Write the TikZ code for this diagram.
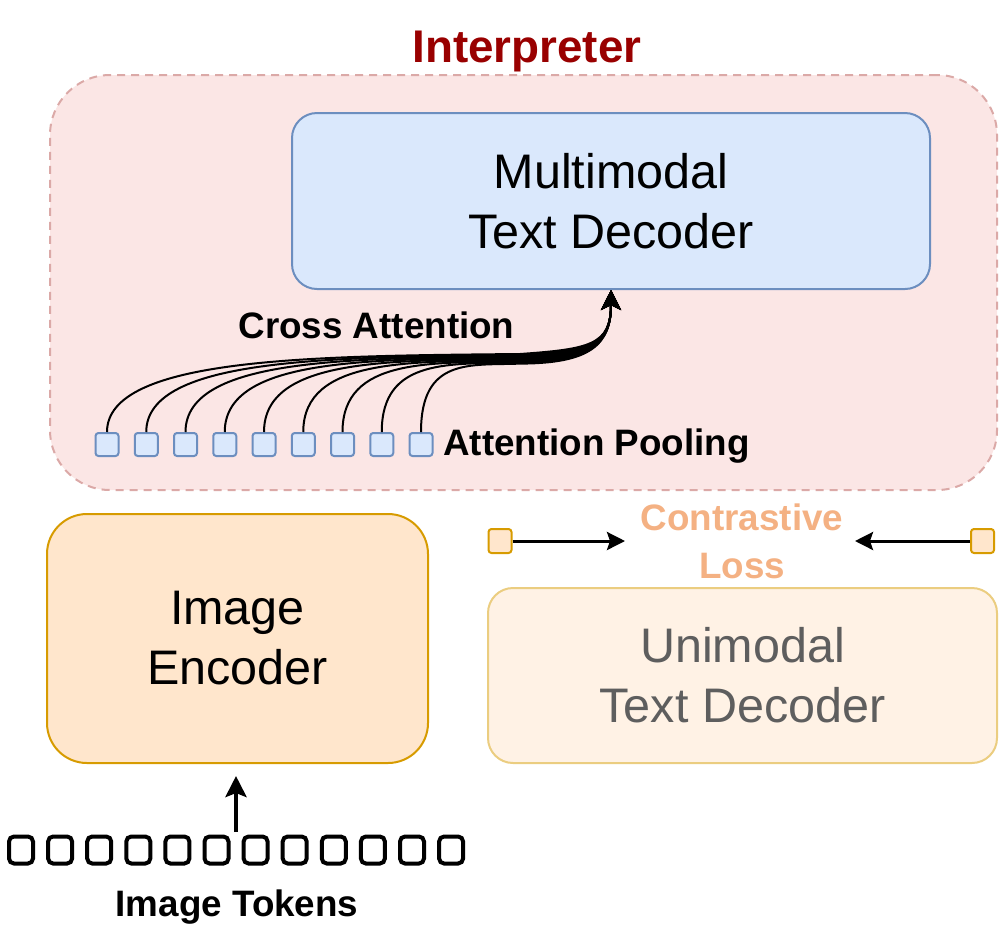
\documentclass[tikz,border=0pt]{standalone}
\usepackage{fontspec}
\setmainfont{Liberation Sans}
\usetikzlibrary{arrows.meta}
\definecolor{intfill}{HTML}{FBE6E5}
\definecolor{intdraw}{HTML}{DBA9A7}
\definecolor{intred}{HTML}{990000}
\definecolor{bluefill}{HTML}{DAE8FC}
\definecolor{bluedraw}{HTML}{6C8EBF}
\definecolor{orfill}{HTML}{FFE6CC}
\definecolor{ordraw}{HTML}{D79B00}
\definecolor{fadefill}{HTML}{FFF2E5}
\definecolor{fadedraw}{HTML}{EBCD80}
\definecolor{fadetext}{HTML}{5E5E5E}
\definecolor{losstext}{HTML}{F4B183}
\tikzset{
  bigtext/.style={font=\fontsize{48.5}{60}\selectfont, align=center},
  boldlabel/.style={font=\bfseries\fontsize{36.8}{48}\selectfont, inner sep=0pt},
  poolsq/.style={draw=bluedraw, fill=bluefill, line width=2pt, rounded corners=3pt, minimum width=23pt, minimum height=23pt, inner sep=0pt},
  losssq/.style={draw=ordraw, fill=orfill, line width=2pt, rounded corners=3pt, minimum width=23pt, minimum height=24pt, inner sep=0pt},
  toksq/.style={draw=black, line width=4pt, rounded corners=5pt, minimum width=24pt, minimum height=27pt, inner sep=0pt},
  crossline/.style={line width=2pt, -{Stealth[length=20pt, width=20pt, inset=5pt]}},
  lossarrow/.style={line width=3pt, -{Stealth[length=18pt, width=18pt, inset=3pt]}},
  tokarrow/.style={line width=4.5pt, -{Stealth[length=21pt, width=21pt, inset=4pt]}}
}
\begin{document}
\begin{tikzpicture}[x=1pt, y=-1pt]
\useasboundingbox (0,0) rectangle (1006,946);

% Interpreter container
\node[draw=intdraw, fill=intfill, dashed, dash pattern=on 8pt off 6pt, line width=2pt,
      rounded corners=60pt, minimum width=947pt, minimum height=415pt] (interp) at (523.5,282.5) {};
\node[anchor=base, font=\bfseries\fontsize{45.8}{54}\selectfont, text=intred, inner sep=0pt] (interptitle) at (527,62) {Interpreter};

% Multimodal text decoder
\node[draw=bluedraw, fill=bluefill, line width=2pt, rounded corners=25pt,
      minimum width=638pt, minimum height=176pt, bigtext] (mm) at (611,201) {Multimodal\\Text Decoder};

% Attention pooling squares
\foreach \i in {0,...,8} {
  \node[poolsq] (p\i) at ({107+39.25*\i},444.5) {};
}
\foreach \i in {0,...,8} {
  \pgfmathsetmacro{\cx}{(107+39.25*\i+520)/2}
  \pgfmathsetmacro{\my}{354+1.2*\i}
  \pgfmathsetmacro{\cy}{349+1.8*\i}
  \coordinate (merge\i) at (520,\my);
  \draw[crossline] (p\i.north) .. controls +(0,-75) and (\cx,\my+2) .. (merge\i)
        .. controls (590,\cy) and (611,345) .. (mm.south);
}
\node[boldlabel, anchor=base] (crossatt) at (376.5,338) {Cross Attention};
\node[boldlabel, anchor=base west] (attpool) at (443,455) {Attention Pooling};

% Image encoder
\node[draw=ordraw, fill=orfill, line width=2pt, rounded corners=40pt,
      minimum width=381pt, minimum height=249pt, bigtext] (enc) at (237.5,638.5) {Image\\Encoder};

% Unimodal text decoder
\node[draw=fadedraw, fill=fadefill, line width=2pt, rounded corners=25pt,
      minimum width=509pt, minimum height=175pt, bigtext, text=fadetext] (uni) at (742.5,675.5) {Unimodal\\Text Decoder};

% Contrastive loss
\node[boldlabel, anchor=base, text=losstext] (contr) at (742,530) {Contrastive};
\node[boldlabel, anchor=base, text=losstext] (loss) at (742,578) {Loss};
\node[losssq] (lq) at (500,541) {};
\node[losssq] (rq) at (982.5,541) {};
\coordinate (lend) at (625,541);
\coordinate (rend) at (855,541);
\draw[lossarrow] (lq.east) -- (lend);
\draw[lossarrow] (rq.west) -- (rend);

% Image tokens
\foreach \i in {0,...,11} {
  \node[toksq] (t\i) at ({21+39.1*\i},850) {};
}
\coordinate (tokup) at (236,832);
\coordinate (encin) at (236,776);
\draw[tokarrow] (tokup) -- (encin);
\node[boldlabel, anchor=base] (toklabel) at (237,916) {Image Tokens};
\end{tikzpicture}
\end{document}
